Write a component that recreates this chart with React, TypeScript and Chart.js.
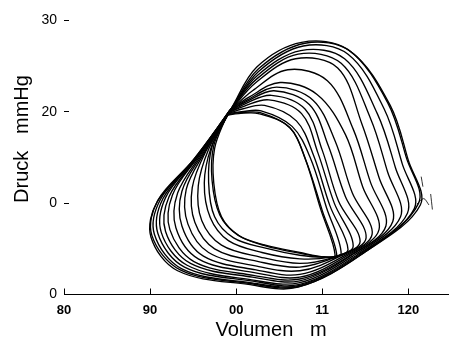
import React, { useEffect, useRef } from "react";
import { Chart, registerables } from "chart.js";

Chart.register(...registerables);

// Tick values and the labels as they appear in the reference
const xTickValues = [80, 90, 100, 110, 120];
const xTickLabels = ["80", "90", "00", "11", "120"];
const yTickValues = [0, 10, 20, 30];
const yTickLabels = ["0", "0", "20", "30"];

const xTitle = "Volumen   m";
const yTitle = "Druck   mmHg";

// Pressure-volume loops: [volume, pressure], from outermost to innermost
const loop01 = [[99.4,20.3],[95.1,14.6],[90.8,10.1],[90.1,6.3],[93.2,2.6],[101.4,1.1],[107.2,0.8],[114.6,4.4],[121.2,10.0],[119.8,14.9],[117.6,21.0],[113.0,26.8],[107.6,27.6],[102.4,24.9]];
const loop02 = [[99.4,20.3],[95.0,14.7],[90.9,10.3],[90.2,6.5],[93.5,2.7],[101.6,1.2],[107.4,0.9],[114.4,4.3],[121.4,9.8],[120.0,14.7],[117.9,20.7],[113.3,26.6],[108.0,27.5],[102.6,24.7]];
const loop03 = [[99.4,20.2],[95.1,14.8],[91.2,10.4],[90.5,6.6],[93.7,2.8],[101.6,1.3],[107.4,1.0],[114.2,4.3],[120.7,9.4],[119.3,14.3],[117.2,20.3],[113.0,26.3],[107.8,27.2],[102.6,24.4]];
const loop04 = [[99.3,20.2],[95.2,14.8],[91.5,10.5],[90.9,6.7],[94.0,3.0],[101.7,1.5],[107.4,1.1],[114.0,4.3],[119.9,8.9],[118.5,13.9],[116.4,19.8],[112.6,25.8],[107.5,26.7],[102.5,24.0]];
const loop05 = [[99.3,20.2],[95.3,14.9],[91.8,10.6],[91.3,6.8],[94.3,3.2],[101.8,1.6],[107.4,1.3],[113.7,4.3],[119.1,8.5],[117.6,13.4],[115.6,19.3],[112.2,25.3],[107.2,26.3],[102.4,23.6]];
const loop06 = [[99.3,20.1],[95.5,15.0],[92.2,10.7],[91.8,6.9],[94.7,3.4],[101.9,1.9],[107.4,1.5],[113.4,4.3],[118.2,8.0],[116.6,12.8],[114.6,18.7],[111.8,24.8],[106.9,25.8],[102.3,23.2]];
const loop07 = [[99.3,20.1],[95.6,15.1],[92.6,10.9],[92.3,7.1],[95.1,3.6],[102.0,2.1],[107.4,1.7],[113.1,4.2],[117.4,7.5],[115.6,12.3],[113.6,18.1],[110.6,23.4],[106.0,24.6],[101.9,22.3]];
const loop08 = [[99.2,20.1],[95.9,15.3],[93.2,11.1],[93.0,7.3],[95.6,3.9],[102.1,2.4],[107.4,1.9],[112.8,4.2],[116.6,7.1],[114.7,11.8],[112.7,17.5],[109.4,21.9],[105.1,23.2],[101.5,21.6]];
const loop09 = [[99.2,20.0],[96.1,15.4],[93.7,11.3],[93.7,7.5],[96.2,4.2],[102.3,2.7],[107.4,2.2],[112.5,4.2],[115.8,6.6],[113.5,11.1],[111.5,16.8],[108.9,21.3],[104.7,22.7],[101.3,21.3]];
const loop10 = [[99.2,20.0],[96.3,15.5],[94.2,11.5],[94.4,7.7],[96.8,4.6],[102.4,3.1],[107.4,2.6],[112.1,4.2],[115.1,6.2],[112.7,10.7],[110.7,16.3],[108.5,20.8],[104.4,22.3],[101.2,21.1]];
const loop11 = [[99.2,19.9],[96.5,15.7],[94.9,11.7],[95.2,7.9],[97.5,5.0],[102.6,3.6],[107.4,3.0],[111.8,4.2],[114.4,5.8],[111.9,10.2],[110.0,15.8],[108.0,20.3],[104.1,21.8],[101.1,20.9]];
const loop12 = [[99.1,19.9],[96.8,15.9],[95.6,11.9],[96.0,8.1],[98.3,5.4],[102.8,4.1],[107.4,3.4],[111.4,4.1],[113.6,5.3],[111.4,10.0],[109.5,15.5],[107.6,19.8],[103.8,21.3],[100.9,20.6]];
const loop13 = [[99.1,19.8],[97.1,16.1],[96.3,12.2],[97.0,8.4],[99.1,5.9],[103.0,4.6],[107.4,3.9],[111.0,4.1],[113.0,4.9],[110.9,9.7],[109.0,15.2],[107.0,19.0],[103.3,20.7],[100.7,20.3]];
const loop14 = [[99.1,19.8],[97.2,16.2],[96.8,12.3],[97.5,8.5],[99.7,6.2],[103.3,5.1],[107.4,4.3],[110.6,4.1],[112.2,4.5],[110.5,9.5],[108.6,15.0],[106.5,18.4],[102.9,20.1],[100.6,20.0]];
const loop15 = [[99.0,19.7],[97.4,16.3],[97.2,12.5],[98.1,8.7],[100.2,6.5],[103.4,5.4],[107.4,4.6],[110.3,4.1],[111.7,4.2],[110.0,9.2],[108.1,14.7],[106.3,18.2],[102.8,19.9],[100.5,19.9]];
const loop16 = [[98.9,19.6],[97.5,16.0],[97.4,12.2],[98.3,8.5],[100.4,6.4],[103.5,5.3],[107.5,4.5],[110.2,4.1],[111.5,4.3],[109.8,9.4],[108.0,14.9],[106.2,18.3],[102.6,19.8],[100.3,19.8]];

// Small stray strokes at the right end of the loops
const stray1 = [[121.5,12.9],[121.7,11.8]];
const stray2 = [[122.6,11.0],[122.8,9.3]];
const stray3 = [[121.0,9.9],[121.8,10.5],[122.4,9.8]];

const loops = [loop01, loop02, loop03, loop04, loop05, loop06, loop07, loop08, loop09, loop10, loop11, loop12, loop13, loop14, loop15, loop16];
const strays = [stray1, stray2, stray3];

const FONT = '"Liberation Sans", Arial, sans-serif';

const titlePlugin = {
  id: "axisTitles",
  afterDraw(chart: any) {
    const ctx = chart.ctx;
    ctx.save();
    ctx.fillStyle = "#000";
    ctx.font = `20px ${FONT}`;
    ctx.textAlign = "center";
    ctx.textBaseline = "alphabetic";
    ctx.fillText(xTitle, 271, 336);
    ctx.translate(28, 139);
    ctx.rotate(-Math.PI / 2);
    ctx.fillText(yTitle, 0, 0);
    ctx.restore();
  },
};

export default function App() {
  const canvasRef = useRef<HTMLCanvasElement | null>(null);

  useEffect(() => {
    document.body.style.margin = "0";
    const canvas = canvasRef.current;
    if (!canvas) return;
    const loopSets = loops.map((loop) => ({
      data: [...loop, loop[0]].map(([x, y]) => ({ x, y })),
      showLine: true,
      borderColor: "#000",
      borderWidth: 1.35,
      tension: 0.35,
      pointRadius: 0,
      pointHoverRadius: 0,
      fill: false,
    }));
    const straySets = strays.map((s) => ({
      data: s.map(([x, y]) => ({ x, y })),
      showLine: true,
      borderColor: "#000",
      borderWidth: 0.8,
      tension: 0.3,
      pointRadius: 0,
      pointHoverRadius: 0,
      fill: false,
    }));
    const chart = new Chart(canvas, {
      type: "scatter",
      data: { datasets: [...loopSets, ...straySets] },
      options: {
        animation: false,
        responsive: false,
        devicePixelRatio: 1,
        events: [],
        layout: { padding: { top: 19, right: 0, left: 0, bottom: 0 } },
        plugins: { legend: { display: false }, tooltip: { enabled: false } },
        scales: {
          x: {
            type: "linear",
            position: "bottom",
            min: 80,
            max: 124.73,
            afterBuildTicks: (s: any) => {
              s.ticks = xTickValues.map((v) => ({ value: v }));
            },
            afterFit: (s: any) => {
              s.height = 53.5;
            },
            grid: { drawOnChartArea: false, drawTicks: true, tickLength: -6, color: "#000", lineWidth: 1 },
            border: { display: true, color: "#000", width: 1 },
            ticks: {
              color: "#000",
              padding: 14,
              maxRotation: 0,
              font: { family: FONT, size: 13, weight: "bold" },
              callback: (v: any) => {
                const i = xTickValues.indexOf(Number(v));
                return i >= 0 ? xTickLabels[i] : "";
              },
            },
          },
          y: {
            type: "linear",
            position: "left",
            min: 0,
            max: 30,
            afterBuildTicks: (s: any) => {
              s.ticks = yTickValues.map((v) => ({ value: v }));
            },
            afterFit: (s: any) => {
              s.width = 64;
            },
            grid: { drawOnChartArea: false, drawTicks: true, tickLength: -5, color: "#000", lineWidth: 1 },
            border: { display: false },
            ticks: {
              color: "#000",
              padding: 12,
              font: { family: FONT, size: 14 },
              callback: (v: any) => {
                const i = yTickValues.indexOf(Number(v));
                return i >= 0 ? yTickLabels[i] : "";
              },
            },
          },
        },
      },
      plugins: [titlePlugin],
    });
    return () => chart.destroy();
  }, []);

  return (
    <div style={{ position: "absolute", left: 0, top: 0, width: 449, height: 348, background: "#fff" }}>
      <canvas ref={canvasRef} width={449} height={348} />
    </div>
  );
}
